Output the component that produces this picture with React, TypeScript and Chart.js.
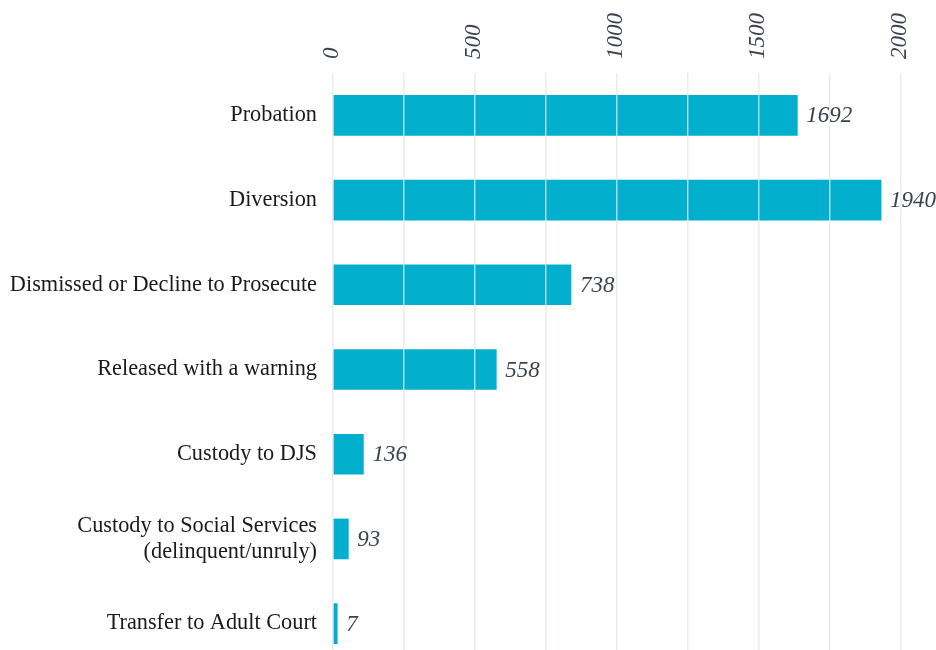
import React, { useEffect, useRef } from "react";
import { Chart, registerables } from "chart.js";

Chart.register(...registerables);

const categories: (string | string[])[] = [
  "Probation",
  "Diversion",
  "Dismissed or Decline to Prosecute",
  "Released with a warning",
  "Custody to DJS",
  ["Custody to Social Services", "(delinquent/unruly)"],
  "Transfer to Adult Court",
];
// bar lengths as drawn in the picture
const barValues = [1635, 1930, 838, 575, 107, 54, 15];
// value texts printed beside the bars
const valueLabels = ["1692", "1940", "738", "558", "136", "93", "7"];
const xTickLabels = [0, 500, 1000, 1500, 2000];

const valueLabelPlugin = {
  id: "valueLabels",
  afterDraw(chart: any) {
    const ctx = chart.ctx;
    const meta = chart.getDatasetMeta(0);
    ctx.save();
    ctx.font = "italic 23px 'Liberation Serif', serif";
    ctx.fillStyle = "#3b4250";
    ctx.textAlign = "left";
    ctx.textBaseline = "middle";
    meta.data.forEach((bar: any, i: number) => {
      ctx.fillText(valueLabels[i], bar.x + 9, bar.y + 1);
    });
    ctx.restore();
  },
};

export default function App() {
  const ref = useRef<HTMLCanvasElement | null>(null);

  useEffect(() => {
    if (!ref.current) return;
    const chart = new Chart(ref.current, {
      type: "bar",
      data: {
        labels: categories,
        datasets: [
          {
            data: barValues,
            backgroundColor: "#02b0cd",
            borderWidth: 0,
            barThickness: 40,
          },
        ],
      },
      options: {
        indexAxis: "y",
        animation: false,
        responsive: true,
        maintainAspectRatio: false,
        layout: { padding: { top: 0, right: 35, bottom: 0, left: 0 } },
        plugins: {
          legend: { display: false },
          tooltip: { enabled: false },
        },
        scales: {
          x: {
            position: "top",
            min: 0,
            max: 2000,
            ticks: {
              stepSize: 250,
              autoSkip: false,
              minRotation: 90,
              maxRotation: 90,
              padding: 14,
              labelOffset: 27,
              color: "#3b4250",
              font: { family: "'Liberation Serif', serif", size: 23, style: "italic" },
              callback: (v: any) => (xTickLabels.includes(Number(v)) ? String(v) : ""),
            },
            grid: {
              color: "rgba(224,231,236,0.75)",
              lineWidth: 1.5,
              drawTicks: false,
              z: 1,
            },
            border: { display: false },
            afterFit: (s: any) => {
              s.height = 73;
              s.paddingLeft = 0;
              s.paddingRight = 0;
            },
          },
          y: {
            ticks: {
              padding: 16,
              color: "#1a1a1a",
              font: { family: "'Liberation Serif', serif", size: 22.3, lineHeight: 1.17 },
            },
            grid: { display: false, drawTicks: false },
            border: { display: false },
            afterFit: (s: any) => {
              s.width = 333;
              s.paddingTop = 0;
              s.paddingBottom = 0;
            },
          },
        },
      },
      plugins: [valueLabelPlugin],
    });
    return () => chart.destroy();
  }, []);

  return (
    <div
      style={{
        position: "fixed",
        left: 0,
        top: 0,
        width: 936,
        height: 650,
        overflow: "hidden",
        background: "#fff",
      }}
    >
      <div style={{ position: "relative", width: 936, height: 666 }}>
        <canvas ref={ref} />
      </div>
    </div>
  );
}
